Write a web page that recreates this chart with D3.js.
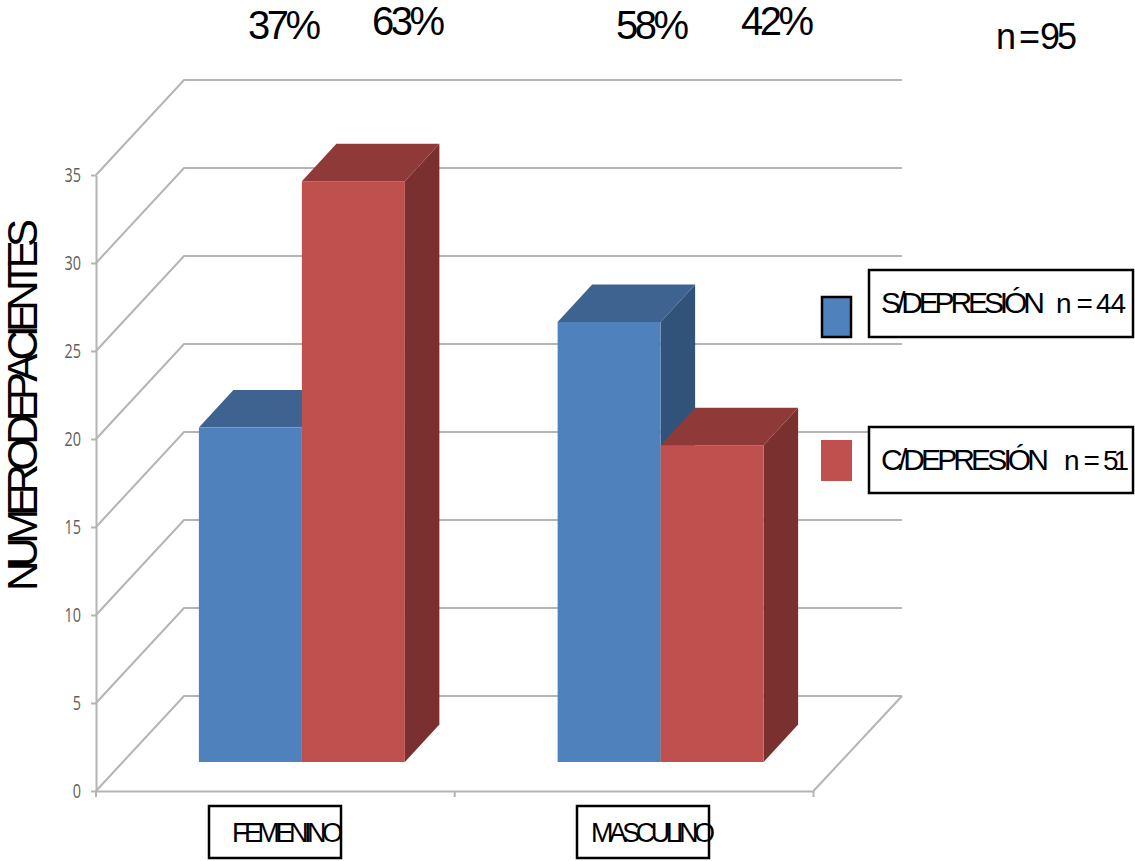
<!DOCTYPE html>
<html>
<head>
<meta charset="utf-8">
<script src="https://cdnjs.cloudflare.com/ajax/libs/d3/7.8.5/d3.min.js"></script>
<style>
html,body{margin:0;padding:0;background:#fff}
svg{display:block}
text{font-family:"Liberation Sans",Arial,sans-serif;fill:#000}
</style>
</head>
<body>
<svg id="chart" width="1135" height="861"></svg>
<script>
// Patients by sex and depression status
const categories = ["FEMENINO", "MASCULINO"];
const seriesNames = ["S/DEPRESIÓN", "C/DEPRESIÓN"];
const sinDepresion = [19, 25];
const conDepresion = [33, 18];
const yTicks = [0, 5, 10, 15, 20, 25, 30, 35];
const percentLabels = ["37%", "63%", "58%", "42%"];
const totalLabel = "n=95";
const yTitle = "NUMERODEPACIENTES";
const legendCounts = ["n=44", "n=51"];

const svg = d3.select("#chart");

// Front plane of the 3D box and its projection towards the back wall
const x = d3.scaleBand().domain(categories).range([96, 813.5]);
const y = d3.scaleLinear().domain([0, 35]).range([791, 175]);
const wall = {dx: 88, dy: -95};
const barShift = {dx: 26.5, dy: -29};
const barDepth = {dx: 34.5, dy: -37.5};
const barWidth = 103;

const gridColor = "#b4b4b4";
const colors = [
  {front: "#4f81bd", top: "#3e6391", side: "#315279"},
  {front: "#c0504d", top: "#8f3a38", side: "#7a302e"}
];

// Gridlines: diagonal along the side wall, then straight across the back wall
const grid = svg.append("g").attr("fill", "none").attr("stroke", gridColor).attr("stroke-width", 2);
grid.selectAll("path").data(yTicks).join("path")
  .attr("d", v => `M${x.range()[0]},${y(v)}L${x.range()[0] + wall.dx},${y(v) + wall.dy}L${902},${y(v) + wall.dy}`);

// Floor edge on the right
grid.append("path")
  .attr("d", `M${x.range()[1]},${y(0)}L${902},${y(0) + wall.dy}`);

// Value axis
const tickSquash = 0.72;
const axisY = svg.append("g").attr("transform", `translate(${x.range()[0]},0)`)
  .call(d3.axisLeft(y).tickValues(yTicks).tickSize(5).tickSizeOuter(0));
axisY.select(".domain").attr("stroke", gridColor).attr("stroke-width", 2);
axisY.selectAll(".tick line").attr("stroke", gridColor).attr("stroke-width", 2);
axisY.selectAll(".tick text")
  .attr("x", -15 / tickSquash)
  .attr("transform", `scale(${tickSquash},1)`)
  .style("font-family", "'Open Sans',sans-serif")
  .style("font-size", "20px")
  .style("fill", "#5f5f5f");

// Category axis
const axisX = svg.append("g").attr("transform", `translate(0,${y(0)})`)
  .call(d3.axisBottom(x).tickValues([]).tickSizeOuter(0));
axisX.select(".domain").attr("stroke", gridColor).attr("stroke-width", 2);
axisX.selectAll("line.div").data([0, 1, 2]).join("line").attr("class", "div")
  .attr("x1", i => x.range()[0] + i * x.step()).attr("x2", i => x.range()[0] + i * x.step())
  .attr("y1", 0).attr("y2", 6)
  .attr("stroke", gridColor).attr("stroke-width", 2);

// Bars: each is a front face, a top face and a right side face
const records = [];
categories.forEach((c, i) => {
  records.push({cat: c, series: 0, value: sinDepresion[i]});
  records.push({cat: c, series: 1, value: conDepresion[i]});
});
const barX = d => x(d.cat) + x.bandwidth() / 2 + barShift.dx + (d.series - 1) * barWidth;
const barTop = d => y(d.value) + barShift.dy;
const barBase = y(0) + barShift.dy;

const bars = svg.append("g").selectAll("g").data(records).join("g");
bars.append("path").attr("fill", d => colors[d.series].side)
  .attr("d", d => {
    const r = barX(d) + barWidth;
    return `M${r},${barTop(d)}l${barDepth.dx},${barDepth.dy}L${r + barDepth.dx},${barBase + barDepth.dy}L${r},${barBase}Z`;
  });
bars.append("path").attr("fill", d => colors[d.series].top)
  .attr("d", d => {
    const l = barX(d);
    return `M${l},${barTop(d)}l${barDepth.dx},${barDepth.dy}h${barWidth}l${-barDepth.dx},${-barDepth.dy}Z`;
  });
bars.append("rect").attr("fill", d => colors[d.series].front)
  .attr("x", barX).attr("y", barTop)
  .attr("width", barWidth).attr("height", d => barBase - barTop(d));

// Text squeezed to an exact run width
function fitted(parent, str, px, py, size, width) {
  return parent.append("text").text(str)
    .attr("x", px).attr("y", py)
    .attr("font-size", size)
    .attr("textLength", width)
    .attr("lengthAdjust", "spacing");
}

// Text with a hand-set gap after each glyph
function kerned(parent, str, px, py, size, gaps) {
  return parent.append("text").text(str)
    .attr("x", px).attr("y", py)
    .attr("font-size", size)
    .attr("dx", [0, ...gaps].join(" "));
}

// Share of each bar above the chart
const percentPos = [[248, 39], [372, 35], [616, 39], [741, 35]];
percentLabels.forEach((t, i) => fitted(svg, t, percentPos[i][0], percentPos[i][1], 40, 73));
kerned(svg, totalLabel, 996, 49, 36, [3, 0, -3]);

// Value axis title
svg.append("g").attr("transform", "translate(37,591) rotate(-90)")
  .call(g => fitted(g, yTitle, 0, 0, 42, 372));

// Category boxes
const boxes = svg.append("g");
const catBoxX = [209, 577];
const catTextX = [232, 591];
const catTextW = [111, 124];
categories.forEach((c, i) => {
  boxes.append("rect").attr("x", catBoxX[i]).attr("y", 806).attr("width", 132).attr("height", 52)
    .attr("fill", "none").attr("stroke", "#000").attr("stroke-width", 2.5);
  fitted(boxes, c, catTextX[i], 842, 27, catTextW[i]);
});

// Legend
const legend = svg.append("g");
const legendBoxY = [270, 427];
legendBoxY.forEach((by, i) => {
  legend.append("rect").attr("x", 869).attr("y", by).attr("width", 264).attr("height", i ? 66 : 67)
    .attr("fill", "#fff").attr("stroke", "#000").attr("stroke-width", 2.5);
});
legend.append("rect").attr("x", 822).attr("y", 297).attr("width", 29).attr("height", 40)
  .attr("fill", colors[0].front).attr("stroke", "#000").attr("stroke-width", 2.5);
legend.append("rect").attr("x", 821).attr("y", 440).attr("width", 31).attr("height", 41)
  .attr("fill", colors[1].front);
fitted(legend, seriesNames[0], 881, 313, 30, 164);
fitted(legend, seriesNames[1], 881, 470, 30, 168);
kerned(legend, legendCounts[0], 1056, 313, 28, [5, 3, -1]);
kerned(legend, legendCounts[1], 1064, 470, 28, [4, 3, -5]);
</script>
</body>
</html>
